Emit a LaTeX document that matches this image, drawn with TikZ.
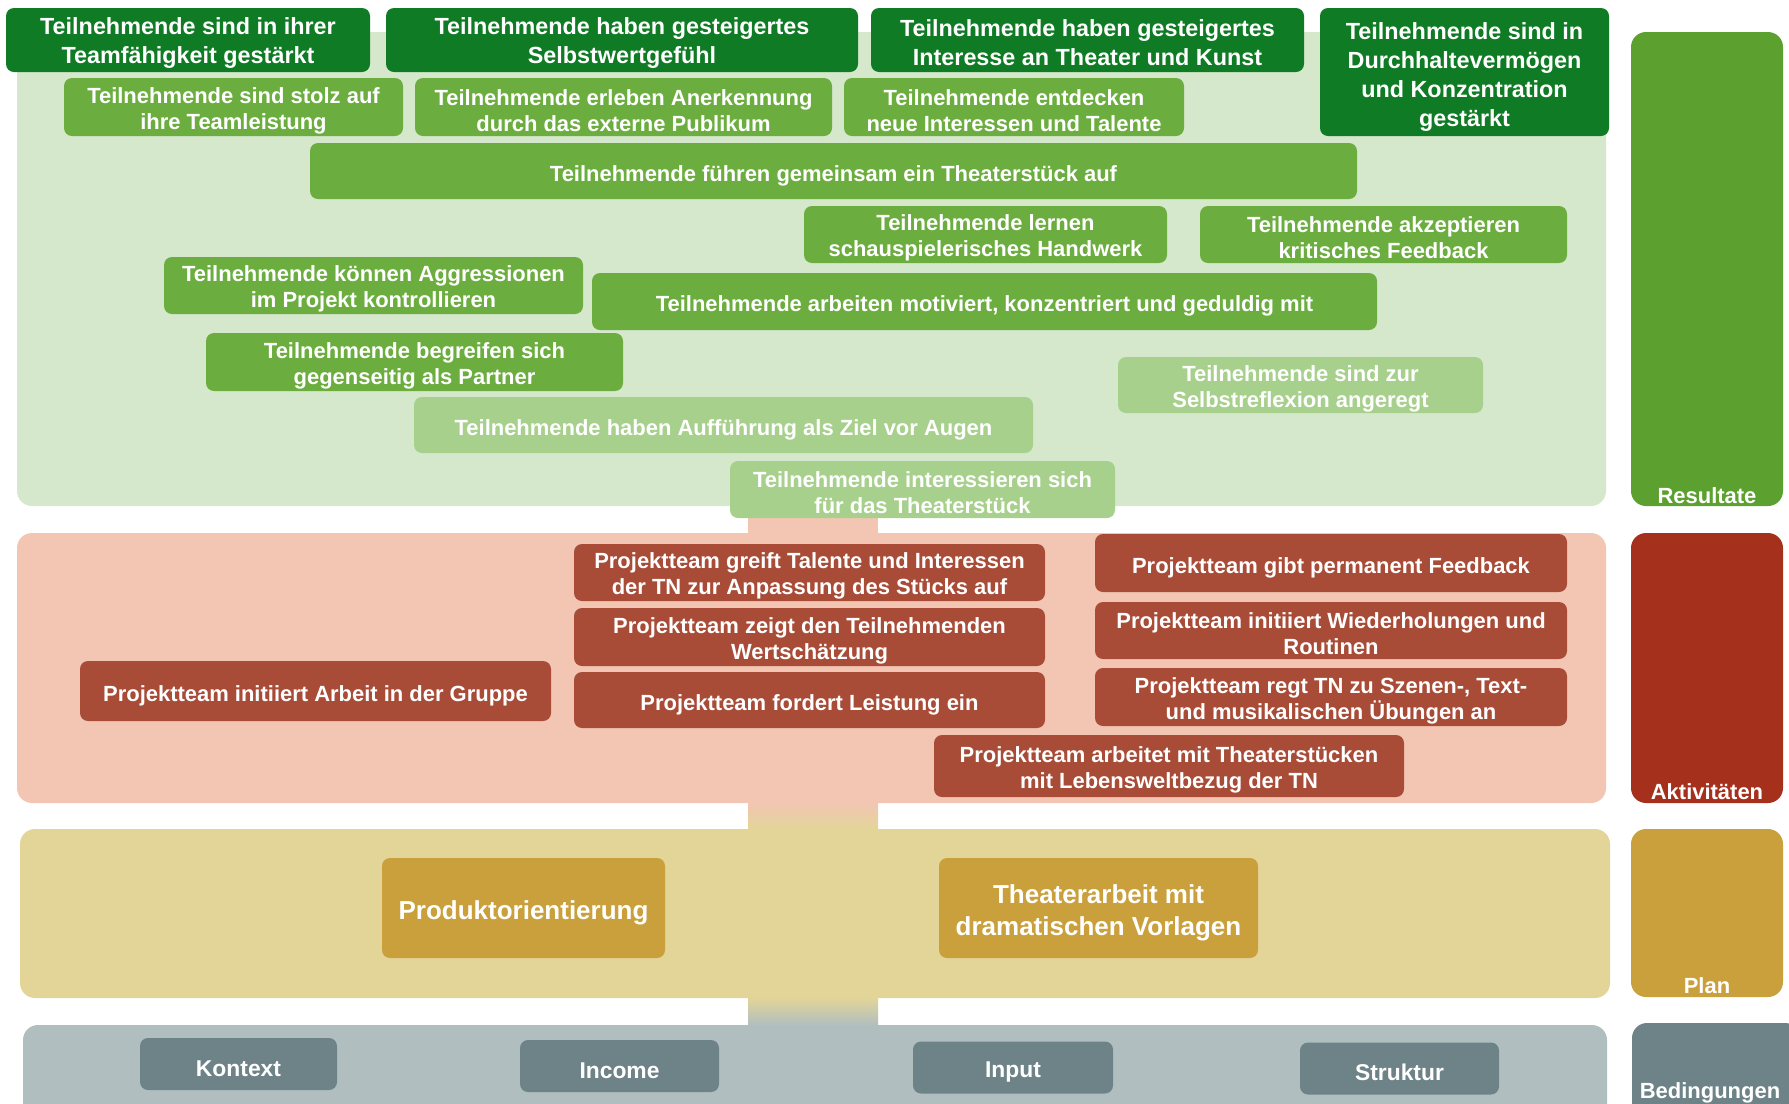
\documentclass[tikz,border=0pt]{standalone}
\usepackage{fontspec}
\setmainfont{Liberation Sans}
\usepackage{tikz}
\usepackage{xcolor}
\usetikzlibrary{positioning}
\definecolor{ResDark}{HTML}{0F7B24}
\definecolor{ResMid}{HTML}{6CAD3F}
\definecolor{ResLight}{HTML}{A8D08D}
\definecolor{ResBg}{HTML}{D6E8CB}
\definecolor{ResBar}{HTML}{5CA130}
\definecolor{ActBg}{HTML}{F2C6B3}
\definecolor{ActBox}{HTML}{A84C38}
\definecolor{ActBar}{HTML}{A5311C}
\definecolor{PlanBg}{HTML}{E3D598}
\definecolor{PlanBox}{HTML}{C9A03B}
\definecolor{CondBg}{HTML}{B0BEC0}
\definecolor{CondBox}{HTML}{6E8387}
\newlength\px
\setlength\px{0.02cm}
\tikzset{
    % Box styles - rounded, white bold text
    textdrop/.style={execute at begin node={\rule{0pt}{#1}}},
    twolines/.style={textdrop=49\px},
    cellbox/.style={
        rectangle,
        rounded corners=8\px,
        inner sep=0pt,
        align=center,
        text=white,
        font=\bfseries\fontsize{12.5}{14.8}\selectfont
    },
    topbox/.style={
        cellbox,
        fill=ResDark,
        textdrop=52\px,
        font=\bfseries\fontsize{13.3}{16.5}\selectfont
    },
    midbox/.style={cellbox, fill=ResMid, textdrop=25\px},
    lightbox/.style={cellbox, fill=ResLight, textdrop=25\px},
    actbox/.style={cellbox, fill=ActBox, textdrop=25\px},
    planbox/.style={
        cellbox,
        fill=PlanBox,
        textdrop=28\px,
        font=\bfseries\fontsize{14.8}{18.2}\selectfont
    },
    condbox/.style={
        cellbox,
        fill=CondBox,
        textdrop=25\px,
        font=\bfseries\fontsize{13}{15}\selectfont
    },
    % Layer styles
    layerbg/.style={rounded corners=15\px},
    sidebar/.style={
        rectangle,
        rounded corners=15\px,
        inner sep=0pt,
        minimum width=152\px
    },
    sidelabel/.style={
        anchor=base,
        inner sep=0pt,
        text=white,
        font=\bfseries\fontsize{12.5}{14.8}\selectfont
    }
}
\begin{document}
\begin{tikzpicture}[x=0.02cm, y=-0.02cm]
    \useasboundingbox (0,0) rectangle (1789,1103);

    % Vertical strip between the layers
    \fill[ActBg] (748,500) rectangle (878,540);
    \shade[top color=ActBg, bottom color=PlanBg] (748,802) rectangle (878,830);
    \shade[top color=PlanBg, bottom color=CondBg] (748,997) rectangle (878,1026);

    % Resultate
    \fill[ResBg, layerbg] (17,32) rectangle (1606,506);
    \node[sidebar, fill=ResBar, minimum height=474\px] (resbar) at (1707,269) {};
    \node[sidelabel] (reslabel) at ([yshift=3\px]resbar.south) {Resultate};

    \node[topbox, minimum width=364\px, minimum height=64\px] (teamfaehig) at (188,40) {Teilnehmende sind in ihrer\\Teamfähigkeit gestärkt};
    \node[topbox, minimum width=472\px, minimum height=64\px] (selbstwert) at (622,40) {Teilnehmende haben gesteigertes\\Selbstwertgefühl};
    \node[topbox, minimum width=433\px, minimum height=64\px] (interesse) at (1087.5,40) {Teilnehmende haben gesteigertes\\Interesse an Theater und Kunst};
    \node[topbox, textdrop=114\px, minimum width=289\px, minimum height=128\px] (durchhalten) at (1464.5,72) {Teilnehmende sind in\\Durchhaltevermögen\\und Konzentration\\gestärkt};

    \node[midbox, twolines, minimum width=339\px, minimum height=58\px] (stolz) at (233.5,107) {Teilnehmende sind stolz auf\\ihre Teamleistung};
    \node[midbox, twolines, minimum width=417\px, minimum height=58\px] (anerkennung) at (623.5,107) {Teilnehmende erleben Anerkennung\\durch das externe Publikum};
    \node[midbox, twolines, minimum width=340\px, minimum height=58\px] (talente) at (1014,107) {Teilnehmende entdecken\\neue Interessen und Talente};
    \node[midbox, minimum width=1047\px, minimum height=56\px] (auffuehren) at (833.5,171) {Teilnehmende führen gemeinsam ein Theaterstück auf};
    \node[midbox, twolines, minimum width=363\px, minimum height=57\px] (handwerk) at (985.5,234.5) {Teilnehmende lernen\\schauspielerisches Handwerk};
    \node[midbox, twolines, minimum width=367\px, minimum height=57\px] (feedback) at (1383.5,234.5) {Teilnehmende akzeptieren\\kritisches Feedback};
    \node[midbox, twolines, minimum width=419\px, minimum height=57\px] (aggression) at (373.5,285.5) {Teilnehmende können Aggressionen\\im Projekt kontrollieren};
    \node[midbox, minimum width=785\px, minimum height=57\px] (motiviert) at (984.5,301.5) {Teilnehmende arbeiten motiviert, konzentriert und geduldig mit};
    \node[midbox, twolines, minimum width=417\px, minimum height=58\px] (partner) at (414.5,362) {Teilnehmende begreifen sich\\gegenseitig als Partner};

    \node[lightbox, twolines, minimum width=365\px, minimum height=56\px] (reflexion) at (1300.5,385) {Teilnehmende sind zur\\Selbstreflexion angeregt};
    \node[lightbox, minimum width=619\px, minimum height=56\px] (ziel) at (723.5,425) {Teilnehmende haben Aufführung als Ziel vor Augen};
    \node[lightbox, twolines, minimum width=385\px, minimum height=57\px] (stueck) at (922.5,489.5) {Teilnehmende interessieren sich\\für das Theaterstück};

    % Aktivitäten
    \fill[ActBg, layerbg] (17,533) rectangle (1606,803);
    \node[sidebar, fill=ActBar, minimum height=270\px] (actbar) at (1707,668) {};
    \node[sidelabel] (actlabel) at ([yshift=4\px]actbar.south) {Aktivitäten};

    \node[actbox, minimum width=471\px, minimum height=60\px] (gruppe) at (315.5,691) {Projektteam initiiert Arbeit in der Gruppe};
    \node[actbox, twolines, minimum width=471\px, minimum height=57\px] (anpassung) at (809.5,572.5) {Projektteam greift Talente und Interessen\\der TN zur Anpassung des Stücks auf};
    \node[actbox, twolines, minimum width=471\px, minimum height=58\px] (wertschaetzung) at (809.5,637) {Projektteam zeigt den Teilnehmenden\\Wertschätzung};
    \node[actbox, minimum width=471\px, minimum height=56\px] (leistung) at (809.5,700) {Projektteam fordert Leistung ein};
    \node[actbox, minimum width=472\px, minimum height=58\px] (permanent) at (1331,563) {Projektteam gibt permanent Feedback};
    \node[actbox, twolines, minimum width=472\px, minimum height=57\px] (routinen) at (1331,630.5) {Projektteam initiiert Wiederholungen und\\Routinen};
    \node[actbox, twolines, minimum width=472\px, minimum height=58\px] (uebungen) at (1331,697) {Projektteam regt TN zu Szenen-, Text-\\und musikalischen Übungen an};
    \node[actbox, twolines, minimum width=470\px, minimum height=62\px] (lebenswelt) at (1169,766) {Projektteam arbeitet mit Theaterstücken\\mit Lebensweltbezug der TN};

    % Plan
    \fill[PlanBg, layerbg] (20,829) rectangle (1610,998);
    \node[sidebar, fill=PlanBox, minimum height=168\px] (planbar) at (1707,913) {};
    \node[sidelabel] (planlabel) at ([yshift=4\px]planbar.south) {Plan};

    \node[planbox, minimum width=283\px, minimum height=100\px] (produkt) at (523.5,908) {Produktorientierung};
    \node[planbox, textdrop=60\px, minimum width=319\px, minimum height=100\px] (vorlagen) at (1098.5,908) {Theaterarbeit mit\\dramatischen Vorlagen};

    % Bedingungen
    \fill[CondBg, layerbg] (23,1025) rectangle (1607,1130);
    \fill[CondBox, layerbg] (1632,1023) rectangle (1800,1130);
    \node[sidelabel] (condlabel) at (1710,1098) {Bedingungen};

    \node[condbox, minimum width=197\px, minimum height=52\px] (kontext) at (238.5,1064) {Kontext};
    \node[condbox, minimum width=199\px, minimum height=52\px] (income) at (619.5,1066) {Income};
    \node[condbox, minimum width=200\px, minimum height=52\px] (input) at (1013,1067.5) {Input};
    \node[condbox, minimum width=199\px, minimum height=52\px] (struktur) at (1399.5,1068.5) {Struktur};
\end{tikzpicture}
\end{document}
